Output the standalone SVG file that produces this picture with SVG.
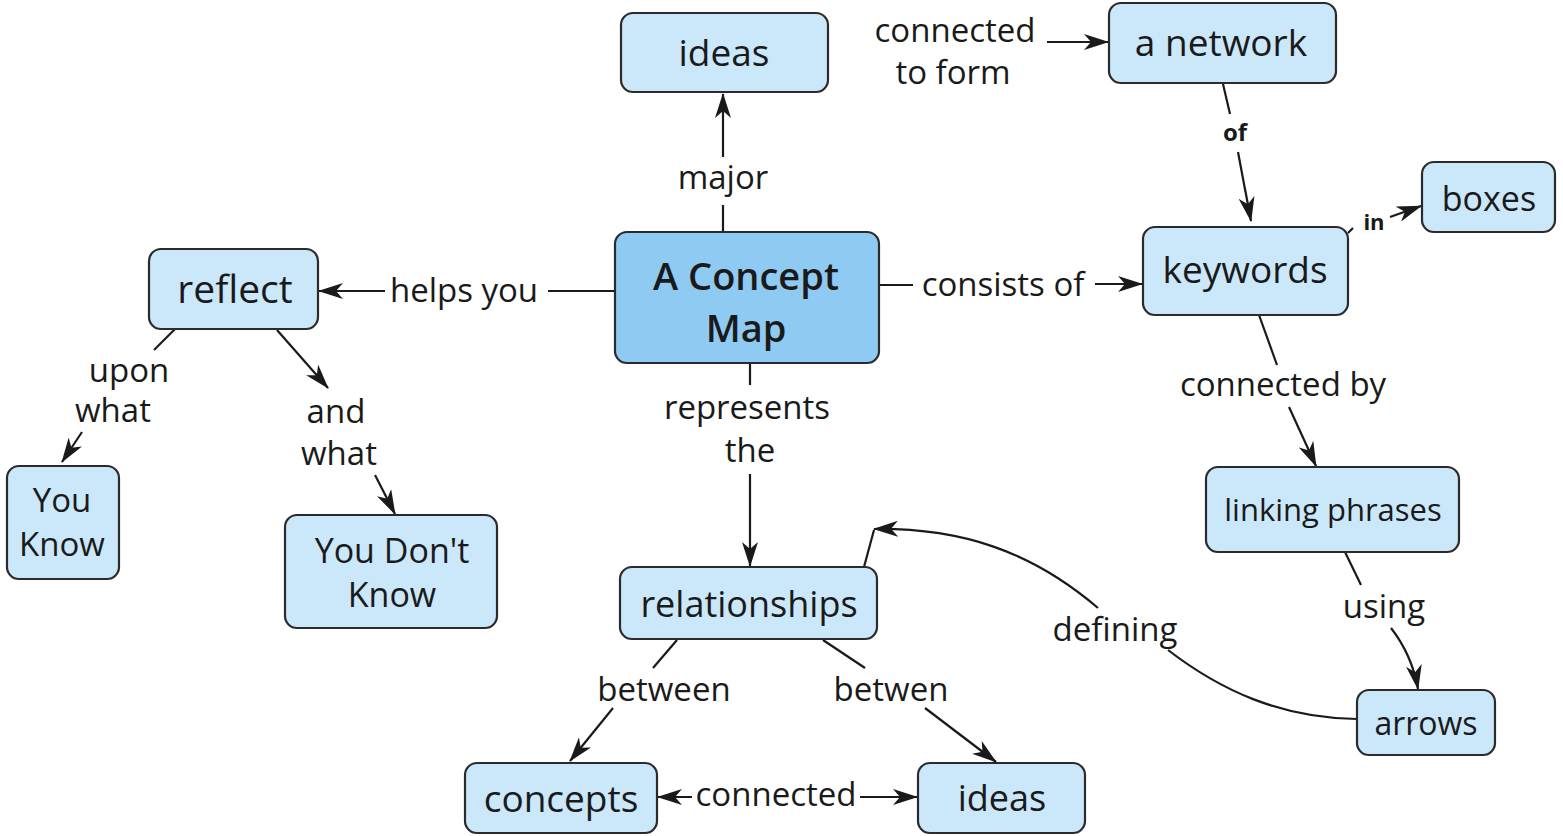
<svg xmlns="http://www.w3.org/2000/svg" width="1563" height="836" viewBox="0 0 1563 836">
<style>
.n rect{fill:#cbe7fa;stroke:#2b2b2b;stroke-width:2.2}
.n.main rect{fill:#8fcaf3}
text{font-family:"Open Sans","Noto Sans","DejaVu Sans",sans-serif;fill:#1a1a1a;text-anchor:middle}
.nt{font-size:37px}
.lb{font-size:33px}
.c line,.c path{stroke:#1a1a1a;stroke-width:2.2;fill:none}
.a{marker-end:url(#ah)}
</style>
<defs>
<marker id="ah" markerUnits="userSpaceOnUse" markerWidth="25" markerHeight="16" viewBox="0 0 25 16" refX="24" refY="8" orient="auto">
<path d="M0,0 L25,8 L0,16 L7,8 Z" fill="#1a1a1a"/>
</marker>
</defs>
<rect width="1563" height="836" fill="#ffffff"/>
<g id="connectors" class="c">
<line x1="723" y1="232" x2="723" y2="205"/>
<line class="a" x1="723" y1="157" x2="723" y2="94"/>
<line class="a" x1="1047" y1="42" x2="1108" y2="42"/>
<line x1="1223" y1="84" x2="1230" y2="114"/>
<line class="a" x1="1238" y1="152" x2="1251" y2="221"/>
<line x1="1348" y1="233" x2="1353" y2="228"/>
<line class="a" x1="1390" y1="217" x2="1421" y2="206"/>
<line x1="879" y1="285" x2="913" y2="285"/>
<line class="a" x1="1095" y1="284" x2="1142" y2="284"/>
<line x1="615" y1="291" x2="548" y2="291"/>
<line class="a" x1="385" y1="291" x2="319" y2="291"/>
<line x1="175" y1="329" x2="154" y2="350"/>
<line class="a" x1="82" y1="432" x2="62" y2="462"/>
<line class="a" x1="277" y1="330" x2="328" y2="388"/>
<line class="a" x1="375" y1="475" x2="395" y2="514"/>
<line x1="750" y1="364" x2="750" y2="385"/>
<line class="a" x1="750" y1="474" x2="750" y2="566"/>
<line x1="677" y1="640" x2="653" y2="668"/>
<line class="a" x1="613" y1="708" x2="570" y2="761"/>
<line x1="823" y1="640" x2="865" y2="668"/>
<line class="a" x1="925" y1="708" x2="996" y2="762"/>
<line class="a" x1="692" y1="797" x2="658" y2="797"/>
<line class="a" x1="860" y1="797" x2="917" y2="797"/>
<line x1="1259" y1="315" x2="1277" y2="365"/>
<line class="a" x1="1289" y1="407" x2="1316" y2="466"/>
<line x1="1345" y1="552" x2="1361" y2="585"/>
<path class="a" d="M1391,628 Q1412,655 1418,689"/>
<path d="M1357,719 C1280,718 1220,690 1168,650"/>
<path class="a" d="M1098,608 C1030,550 960,528 874,529"/>
<line x1="864" y1="567" x2="874" y2="530"/>
</g>
<g id="labels">
<text class="lb" x="955" y="42">connected</text>
<text class="lb" x="953" y="84">to form</text>
<text class="lb" x="723" y="189">major</text>
<text x="1235" y="141" style="font-size:24px;font-weight:bold">of</text>
<text x="1374" y="230" style="font-size:22px;font-weight:bold">in</text>
<text class="lb" x="464" y="302">helps you</text>
<text class="lb" x="1003" y="296">consists of</text>
<text class="lb" x="129" y="382">upon</text>
<text class="lb" x="113" y="422">what</text>
<text class="lb" x="336" y="423">and</text>
<text class="lb" x="339" y="465">what</text>
<text class="lb" x="747" y="419">represents</text>
<text class="lb" x="750" y="462">the</text>
<text class="lb" x="1283" y="396">connected by</text>
<text class="lb" x="1384" y="618">using</text>
<text class="lb" x="1115" y="641">defining</text>
<text class="lb" x="664" y="701">between</text>
<text class="lb" x="891" y="701">betwen</text>
<text class="lb" x="776" y="806">connected</text>
</g>
<g id="node-ideas-top" class="n"><rect x="621" y="13" width="207" height="79" rx="12"/><text class="nt" x="724" y="66">ideas</text></g>
<g id="node-concept-map" class="n main"><rect x="615" y="232" width="264" height="131" rx="12"/><text x="746" y="290" style="font-size:38px;font-weight:600">A Concept</text><text x="746" y="342" style="font-size:38px;font-weight:600">Map</text></g>
<g id="node-network" class="n"><rect x="1109" y="3" width="227" height="80" rx="12"/><text class="nt" x="1221" y="56">a network</text></g>
<g id="node-boxes" class="n"><rect x="1422" y="162" width="133" height="70" rx="12"/><text x="1489" y="211" style="font-size:34px">boxes</text></g>
<g id="node-keywords" class="n"><rect x="1143" y="227" width="205" height="88" rx="12"/><text class="nt" x="1245" y="283">keywords</text></g>
<g id="node-reflect" class="n"><rect x="149" y="249" width="169" height="80" rx="12"/><text x="235" y="303" style="font-size:39px">reflect</text></g>
<g id="node-you-know" class="n"><rect x="7" y="466" width="112" height="113" rx="12"/><text x="62" y="512" style="font-size:33px">You</text><text x="62" y="556" style="font-size:33px">Know</text></g>
<g id="node-you-dont-know" class="n"><rect x="285" y="515" width="212" height="113" rx="12"/><text x="392" y="563" style="font-size:34px">You Don't</text><text x="392" y="607" style="font-size:34px">Know</text></g>
<g id="node-relationships" class="n"><rect x="620" y="567" width="257" height="72" rx="12"/><text x="749" y="617" style="font-size:36px">relationships</text></g>
<g id="node-concepts" class="n"><rect x="465" y="763" width="192" height="70" rx="12"/><text class="nt" x="561" y="812">concepts</text></g>
<g id="node-ideas-bottom" class="n"><rect x="918" y="763" width="167" height="70" rx="12"/><text x="1002" y="811" style="font-size:36px">ideas</text></g>
<g id="node-linking-phrases" class="n"><rect x="1206" y="467" width="253" height="85" rx="12"/><text x="1333" y="521" style="font-size:31px">linking phrases</text></g>
<g id="node-arrows" class="n"><rect x="1357" y="690" width="138" height="65" rx="12"/><text x="1426" y="735" style="font-size:32px">arrows</text></g>
</svg>
